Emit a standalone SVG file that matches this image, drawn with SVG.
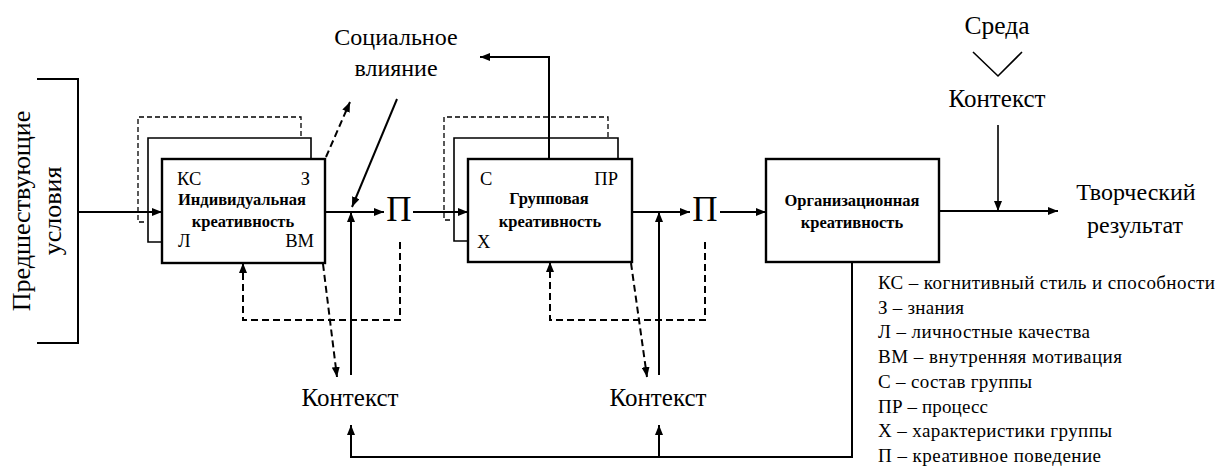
<svg xmlns="http://www.w3.org/2000/svg" width="1217" height="467" viewBox="0 0 1217 467">
<defs>
<marker id="ah" markerUnits="userSpaceOnUse" markerWidth="10" markerHeight="8" refX="10" refY="4" orient="auto">
<path d="M0,0 L10,4 L0,8 z" fill="#000"/>
</marker>
</defs>
<rect width="1217" height="467" fill="#fff"/>

<g id="preconditions">
<path d="M37,79 H78 V343 H37" fill="none" stroke="#000" stroke-width="2"/>
<text font-family="Liberation Serif, serif" font-size="26" text-anchor="middle" transform="translate(30,211) rotate(-90)">Предшествующие</text>
<text font-family="Liberation Serif, serif" font-size="26" text-anchor="middle" transform="translate(61,211) rotate(-90)">условия</text>
</g>

<g id="individual">
<path d="M144,222 H138 V117 H301 V138" fill="none" stroke="#000" stroke-width="1.3" stroke-dasharray="5,3"/>
<path d="M162,242 H148 V138 H311 V159" fill="none" stroke="#000" stroke-width="1.6"/>
<rect x="162" y="159" width="163" height="104" fill="#fff" stroke="#000" stroke-width="2.4"/>
<text font-family="Liberation Serif, serif" font-size="18.5" x="177" y="185">КС</text>
<text font-family="Liberation Serif, serif" font-size="18.5" x="310" y="185" text-anchor="end">З</text>
<text font-family="Liberation Serif, serif" font-size="16.5" font-weight="bold" text-anchor="middle" x="242" y="205">Индивидуальная</text>
<text font-family="Liberation Serif, serif" font-size="16.5" font-weight="bold" text-anchor="middle" x="243" y="227">креативность</text>
<text font-family="Liberation Serif, serif" font-size="18.5" x="178" y="247">Л</text>
<text font-family="Liberation Serif, serif" font-size="18.5" x="314" y="247" text-anchor="end">ВМ</text>
</g>

<g id="group">
<path d="M450,220 H444 V117 H608 V138" fill="none" stroke="#000" stroke-width="1.3" stroke-dasharray="5,3"/>
<path d="M468,241 H454 V138 H618 V159" fill="none" stroke="#000" stroke-width="1.6"/>
<rect x="468" y="159" width="164" height="103" fill="#fff" stroke="#000" stroke-width="2.4"/>
<text font-family="Liberation Serif, serif" font-size="18.5" x="480" y="185">С</text>
<text font-family="Liberation Serif, serif" font-size="18.5" x="618" y="185" text-anchor="end">ПР</text>
<text font-family="Liberation Serif, serif" font-size="16.5" font-weight="bold" text-anchor="middle" x="549" y="204">Групповая</text>
<text font-family="Liberation Serif, serif" font-size="16.5" font-weight="bold" text-anchor="middle" x="550" y="227">креативность</text>
<text font-family="Liberation Serif, serif" font-size="18.5" x="477" y="248">Х</text>
</g>

<g id="organizational">
<rect x="766" y="159" width="173" height="103" fill="#fff" stroke="#000" stroke-width="2.4"/>
<text font-family="Liberation Serif, serif" font-size="16.5" font-weight="bold" text-anchor="middle" x="852" y="206">Организационная</text>
<text font-family="Liberation Serif, serif" font-size="16.5" font-weight="bold" text-anchor="middle" x="852" y="228">креативность</text>
</g>

<g id="labels">
<text font-family="Liberation Serif, serif" font-size="35" text-anchor="middle" x="399" y="221">П</text>
<text font-family="Liberation Serif, serif" font-size="35" text-anchor="middle" x="705" y="221">П</text>
<text font-family="Liberation Serif, serif" font-size="24" text-anchor="middle" x="396" y="45">Социальное</text>
<text font-family="Liberation Serif, serif" font-size="24" text-anchor="middle" x="396" y="76">влияние</text>
<text font-family="Liberation Serif, serif" font-size="25" text-anchor="middle" x="350" y="406">Контекст</text>
<text font-family="Liberation Serif, serif" font-size="25" text-anchor="middle" x="658" y="406">Контекст</text>
<text font-family="Liberation Serif, serif" font-size="25.5" text-anchor="middle" x="997" y="34">Среда</text>
<text font-family="Liberation Serif, serif" font-size="25" text-anchor="middle" x="997" y="107">Контекст</text>
<text font-family="Liberation Serif, serif" font-size="24" text-anchor="middle" x="1136" y="200">Творческий</text>
<text font-family="Liberation Serif, serif" font-size="24" text-anchor="middle" x="1135" y="233">результат</text>
</g>

<g id="legend" font-family="Liberation Serif, serif" font-size="19">
<text font-family="Liberation Serif, serif" x="878" y="289" textLength="337">КС – когнитивный стиль и способности</text>
<text font-family="Liberation Serif, serif" x="878" y="314" textLength="86">З – знания</text>
<text font-family="Liberation Serif, serif" x="878" y="338" textLength="212">Л – личностные качества</text>
<text font-family="Liberation Serif, serif" x="878" y="363" textLength="244">ВМ – внутренняя мотивация</text>
<text font-family="Liberation Serif, serif" x="878" y="388" textLength="154">С – состав группы</text>
<text font-family="Liberation Serif, serif" x="878" y="413" textLength="110">ПР – процесс</text>
<text font-family="Liberation Serif, serif" x="878" y="437" textLength="234">Х – характеристики группы</text>
<text font-family="Liberation Serif, serif" x="878" y="462" textLength="223">П – креативное поведение</text>
</g>

<g id="connectors" fill="none" stroke="#000" stroke-width="2">
<path d="M78,212 H162" marker-end="url(#ah)"/>
<path d="M325,212 H384" marker-end="url(#ah)"/>
<path d="M351,375 V212" marker-end="url(#ah)"/>
<path d="M397,99 L352,207" marker-end="url(#ah)"/>
<path d="M326,157 L350,102" stroke-dasharray="7,4" marker-end="url(#ah)"/>
<path d="M400,242 V320 H243 V263" stroke-dasharray="7,4" marker-end="url(#ah)"/>
<path d="M323,264 L337,377" stroke-dasharray="7,4" marker-end="url(#ah)"/>
<path d="M413,212 H468" marker-end="url(#ah)"/>
<path d="M549,159 V57 H480" marker-end="url(#ah)"/>
<path d="M632,212 H690" marker-end="url(#ah)"/>
<path d="M659,375 V212" marker-end="url(#ah)"/>
<path d="M705,242 V320 H550 V262" stroke-dasharray="7,4" marker-end="url(#ah)"/>
<path d="M631,263 L647,377" stroke-dasharray="7,4" marker-end="url(#ah)"/>
<path d="M720,212 H766" marker-end="url(#ah)"/>
<path d="M939,211 H1058" marker-end="url(#ah)"/>
<path d="M998,125 V211" stroke-width="1.6" marker-end="url(#ah)"/>
<path d="M973,52 L998,76 L1022,52" stroke-width="1.6"/>
<path d="M852,262 V457 H351 V425" marker-end="url(#ah)"/>
<path d="M659,457 V425" marker-end="url(#ah)"/>
</g>
</svg>
